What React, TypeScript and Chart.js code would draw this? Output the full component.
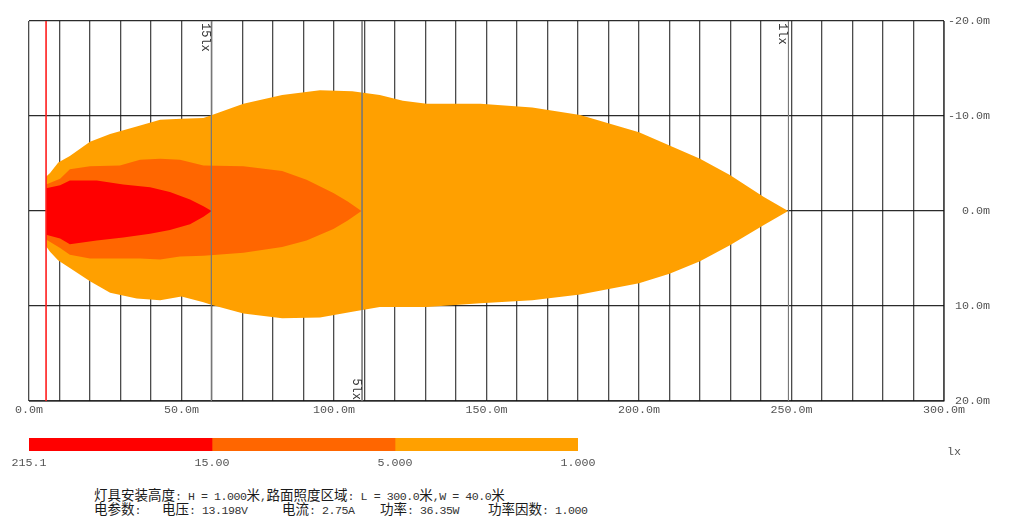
import React, { useEffect, useRef } from "react";
import { Chart, registerables } from "chart.js";

Chart.register(...registerables);

// ---- Data (metres; y negative = upper half) ----
// >15 lx contour (red)
const redX = [5.6, 10.2, 13.4, 22.2, 30.9, 39.7, 46.2, 52.8, 57.2, 59.9];
const redTop = [-2.4, -2.7, -3.2, -3.2, -2.8, -2.5, -2.0, -1.2, -0.5, 0];
const redBottom = [2.5, 2.9, 3.5, 3.1, 2.8, 2.4, 2.0, 1.4, 0.6, 0];

// >5 lx contour (dark orange)
const midX = [5.6, 10.2, 13.4, 20, 29.8, 36.4, 43, 49.5, 57.2, 70.3, 83, 91, 99.8, 104.5, 109];
const midTop = [-2.8, -3.4, -4.4, -4.7, -4.8, -5.4, -5.5, -5.4, -4.8, -4.7, -4.2, -3.3, -1.9, -1.0, 0];
const midBottom = [3.0, 3.9, 4.6, 5.0, 5.0, 5.0, 5.1, 4.8, 4.7, 4.4, 3.8, 3.1, 1.9, 1.0, 0];

// >1 lx contour (orange)
const lowX = [5.6, 6.9, 9.6, 13.4, 20, 26.6, 35.3, 43, 50, 57.2, 60, 70.3, 83, 95.4, 106, 115, 122.6, 130.4, 148, 165, 180.7, 200, 210, 220, 229.8, 240.8, 248.9];
const lowTop = [-3.6, -4.0, -5.1, -5.8, -7.3, -8.1, -8.9, -9.6, -9.7, -9.8, -10.1, -11.3, -12.2, -12.7, -12.6, -12.2, -11.6, -11.3, -11.3, -10.9, -10.1, -8.3, -6.9, -5.5, -3.8, -1.5, 0];
const lowBottom = [3.7, 4.3, 5.2, 6.0, 7.4, 8.6, 9.2, 9.4, 9.0, 9.6, 9.9, 10.8, 11.3, 11.2, 10.6, 10.1, 10.1, 10.1, 9.7, 9.4, 8.8, 7.6, 6.6, 5.3, 3.6, 1.5, 0];

const contourColors = ["#ff0000", "#ff6600", "#ffa000"];

const lampX = 5.6;
const markerValues = [59.8, 109.2, 249.0];
const markerLabels = ["15lx", "5lx", "1lx"];
const markerAtTop = [true, false, true];

const xLabelValues = [0, 50, 100, 150, 200, 250, 300];
const yTickValues = [-20, -10, 0, 10, 20];

const legendLabels = ["215.1", "15.00", "5.000", "1.000"];
const legendUnit = "lx";

const infoLine1 = "灯具安装高度: H = 1.000米,路面照度区域: L = 300.0米,W = 40.0米";
const infoLine2 = ["电参数:", "电压: 13.198V", "电流: 2.75A", "功率: 36.35W", "功率因数: 1.000"];
const infoLine2X = [94, 162, 282, 380, 488];

const MONO = '"Liberation Mono", "Courier New", monospace';
const TICK_FONT = { family: MONO, size: 11.7 };

const pts = (xs: number[], ys: number[]) => xs.map((x, i) => ({ x, y: ys[i] }));

const markerLabelPlugin = {
  id: "markerLabels",
  afterDraw(chart: any) {
    const { ctx, chartArea, scales } = chart;
    ctx.save();
    ctx.font = `12px ${MONO}`;
    ctx.fillStyle = "#333";
    ctx.textBaseline = "middle";
    markerValues.forEach((v, i) => {
      const px = scales.x.getPixelForValue(v) - 6;
      ctx.save();
      ctx.translate(px, 0);
      ctx.rotate(Math.PI / 2);
      if (markerAtTop[i]) {
        ctx.textAlign = "left";
        ctx.fillText(markerLabels[i], chartArea.top + 2, 0);
      } else {
        ctx.textAlign = "right";
        ctx.fillText(markerLabels[i], chartArea.bottom - 1, 0);
      }
      ctx.restore();
    });
    ctx.restore();
  },
};

function MainChart() {
  const ref = useRef<HTMLCanvasElement>(null);
  useEffect(() => {
    if (!ref.current) return;
    const base = { pointRadius: 0, borderWidth: 0, tension: 0, borderColor: "rgba(0,0,0,0)" };
    const datasets: any[] = [
      { ...base, data: pts(redX, redTop), fill: false, order: 1 },
      { ...base, data: pts(redX, redBottom), fill: "-1", backgroundColor: contourColors[0], order: 1 },
      { ...base, data: pts(midX, midTop), fill: false, order: 2 },
      { ...base, data: pts(midX, midBottom), fill: "-1", backgroundColor: contourColors[1], order: 2 },
      { ...base, data: pts(lowX, lowTop), fill: false, order: 3 },
      { ...base, data: pts(lowX, lowBottom), fill: "-1", backgroundColor: contourColors[2], order: 3 },
      {
        pointRadius: 0,
        borderWidth: 1,
        borderColor: "rgba(255,30,30,0.85)",
        fill: false,
        order: 0,
        data: [
          { x: lampX, y: -20 },
          { x: lampX, y: 20 },
        ],
      },
      ...markerValues.map((m) => ({
        pointRadius: 0,
        borderWidth: 1,
        borderColor: "rgba(120,120,120,0.8)",
        fill: false,
        order: 0,
        data: [
          { x: m, y: -20 },
          { x: m, y: 20 },
        ],
      })),
    ];
    const chart = new Chart(ref.current, {
      type: "line",
      data: { datasets },
      options: {
        animation: false,
        responsive: false,
        devicePixelRatio: 1,
        layout: { padding: { left: 29, top: 21, right: 34, bottom: 0 } },
        plugins: { legend: { display: false }, tooltip: { enabled: false } },
        scales: {
          x: {
            type: "linear",
            position: "bottom",
            min: 0,
            max: 300,
            z: 1,
            grid: { color: "rgba(45,45,45,0.85)", lineWidth: 1.3, drawTicks: false },
            border: { display: true, color: "#666" },
            ticks: {
              stepSize: 10,
              autoSkip: false,
              maxRotation: 0,
              padding: 2,
              color: "#555",
              font: TICK_FONT,
              callback: (v: any) => (xLabelValues.includes(Number(v)) ? Number(v).toFixed(1) + "m" : ""),
            },
            afterFit: (s: any) => {
              s.height = 29;
            },
          },
          y: {
            type: "linear",
            position: "right",
            reverse: true,
            min: -20,
            max: 20,
            z: 1,
            grid: { color: "rgba(20,20,20,0.9)", lineWidth: 1.2, drawTicks: false },
            border: { display: true, color: "#666" },
            afterBuildTicks: (s: any) => {
              s.ticks = yTickValues.map((v) => ({ value: v }));
            },
            ticks: {
              padding: 4,
              crossAlign: "far",
              color: "#555",
              font: TICK_FONT,
              callback: (v: any) => (Number(v) === 0 ? "0.0" : Number(v).toFixed(1)) + "m",
            },
            afterFit: (s: any) => {
              s.width = 46;
            },
          },
        },
      } as any,
      plugins: [markerLabelPlugin],
    });
    return () => chart.destroy();
  }, []);
  return (
    <canvas
      ref={ref}
      width={1024}
      height={430}
      style={{ position: "absolute", left: 0, top: 0, width: 1024, height: 430, display: "block" }}
    />
  );
}

function LegendBar() {
  const ref = useRef<HTMLCanvasElement>(null);
  useEffect(() => {
    if (!ref.current) return;
    const chart = new Chart(ref.current, {
      type: "bar",
      data: {
        labels: [""],
        datasets: contourColors.map((c) => ({
          data: [1],
          backgroundColor: c,
          borderWidth: 0,
          barPercentage: 1,
          categoryPercentage: 1,
          stack: "s",
        })),
      },
      options: {
        animation: false,
        responsive: false,
        devicePixelRatio: 1,
        indexAxis: "y",
        layout: { padding: { left: 29, right: 446, top: 8, bottom: 0 } },
        plugins: { legend: { display: false }, tooltip: { enabled: false } },
        scales: {
          x: {
            type: "linear",
            stacked: true,
            min: 0,
            max: 3,
            grid: { display: false, drawTicks: false },
            border: { display: false },
            ticks: {
              stepSize: 1,
              autoSkip: false,
              maxRotation: 0,
              padding: 5,
              color: "#555",
              font: TICK_FONT,
              callback: (v: any) => legendLabels[Number(v)] ?? "",
            },
            afterFit: (s: any) => {
              s.height = 24;
            },
          },
          y: { type: "category", stacked: true, display: false },
        },
      } as any,
    });
    return () => chart.destroy();
  }, []);
  return (
    <canvas
      ref={ref}
      width={1024}
      height={45}
      style={{ position: "absolute", left: 0, top: 430, width: 1024, height: 45, display: "block" }}
    />
  );
}

const CJK_RE = /([\u3000-\u9fff\uff00-\uffef]+)/;

function Mixed({ text }: { text: string }) {
  const parts = text.split(CJK_RE).filter((p) => p.length > 0);
  return (
    <>
      {parts.map((p, i) =>
        CJK_RE.test(p) ? (
          <span key={i} style={{ fontFamily: '"Noto Sans CJK SC", sans-serif', fontSize: 13.5, color: "#1a1a1a" }}>
            {p}
          </span>
        ) : (
          <span key={i} style={{ fontFamily: MONO, fontSize: 11.6, letterSpacing: "-0.45px", color: "#333" }}>
            {p}
          </span>
        )
      )}
    </>
  );
}

export default function App() {
  const lineStyle: React.CSSProperties = {
    position: "absolute",
    whiteSpace: "pre",
    lineHeight: "14px",
    height: 14,
  };
  return (
    <div style={{ position: "absolute", left: 0, top: 0, width: 1024, height: 532, background: "#fff", overflow: "hidden" }}>
      <MainChart />
      <LegendBar />
      <span
        style={{
          position: "absolute",
          left: 947,
          top: 445,
          fontFamily: MONO,
          fontSize: 11.7,
          color: "#555",
          lineHeight: "14px",
        }}
      >
        {legendUnit}
      </span>
      <div style={{ ...lineStyle, left: 94, top: 487 }}>
        <Mixed text={infoLine1} />
      </div>
      {infoLine2.map((t, i) => (
        <div key={i} style={{ ...lineStyle, left: infoLine2X[i], top: 501 }}>
          <Mixed text={t} />
        </div>
      ))}
    </div>
  );
}
